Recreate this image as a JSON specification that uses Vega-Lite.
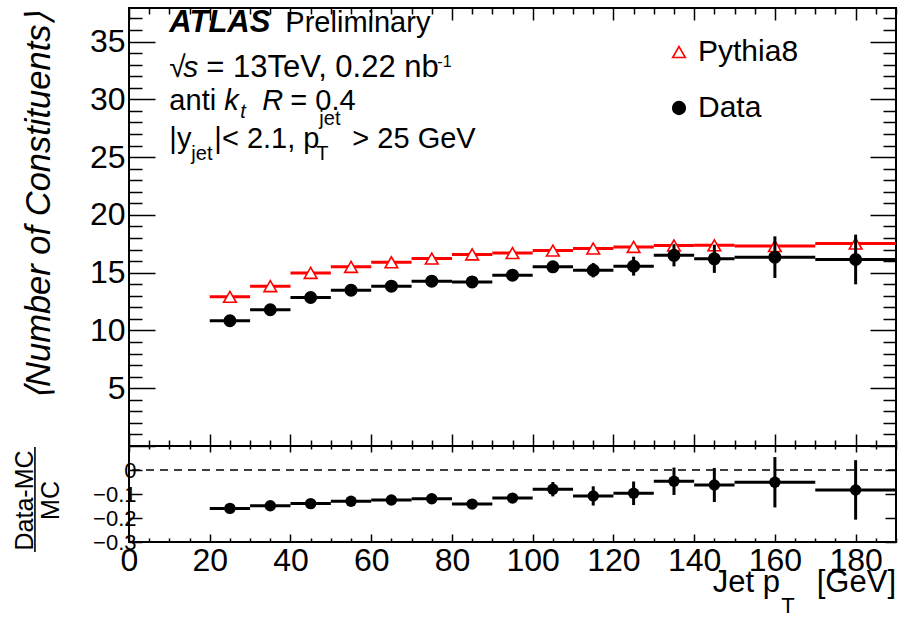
{
  "$schema": "https://vega.github.io/schema/vega-lite/v6.json",
  "background": "white",
  "padding": {"left": 11, "top": 1, "right": 0, "bottom": 5},
  "autosize": {"type": "pad"},
  "bounds": "flush",
  "spacing": 0,
  "config": {
    "font": "Liberation Sans",
    "view": {"stroke": "black", "strokeWidth": 2},
    "axis": {"domain": false, "grid": false, "labelOverlap": false, "labelFlush": false, "tickColor": "black", "tickWidth": 1.5, "labelColor": "black", "titleColor": "black", "labelFont": "Liberation Sans", "titleFont": "Liberation Sans"},
    "legend": {"labelFont": "Liberation Sans", "labelColor": "black"}
  },
  "datasets": {
    "main": [
      {"series": "Pythia8", "lo": 20, "hi": 30, "pt": 25, "value": 12.91, "err": 0},
      {"series": "Pythia8", "lo": 30, "hi": 40, "pt": 35, "value": 13.83, "err": 0},
      {"series": "Pythia8", "lo": 40, "hi": 50, "pt": 45, "value": 14.98, "err": 0},
      {"series": "Pythia8", "lo": 50, "hi": 60, "pt": 55, "value": 15.5, "err": 0},
      {"series": "Pythia8", "lo": 60, "hi": 70, "pt": 65, "value": 15.9, "err": 0},
      {"series": "Pythia8", "lo": 70, "hi": 80, "pt": 75, "value": 16.22, "err": 0},
      {"series": "Pythia8", "lo": 80, "hi": 90, "pt": 85, "value": 16.58, "err": 0},
      {"series": "Pythia8", "lo": 90, "hi": 100, "pt": 95, "value": 16.7, "err": 0},
      {"series": "Pythia8", "lo": 100, "hi": 110, "pt": 105, "value": 16.91, "err": 0},
      {"series": "Pythia8", "lo": 110, "hi": 120, "pt": 115, "value": 17.09, "err": 0},
      {"series": "Pythia8", "lo": 120, "hi": 130, "pt": 125, "value": 17.23, "err": 0},
      {"series": "Pythia8", "lo": 130, "hi": 140, "pt": 135, "value": 17.35, "err": 0},
      {"series": "Pythia8", "lo": 140, "hi": 150, "pt": 145, "value": 17.37, "err": 0},
      {"series": "Pythia8", "lo": 150, "hi": 170, "pt": 160, "value": 17.3, "err": 0},
      {"series": "Pythia8", "lo": 170, "hi": 190, "pt": 180, "value": 17.52, "err": 0},
      {"series": "Data", "lo": 20, "hi": 30, "pt": 25, "value": 10.84, "err": 0.1},
      {"series": "Data", "lo": 30, "hi": 40, "pt": 35, "value": 11.79, "err": 0.1},
      {"series": "Data", "lo": 40, "hi": 50, "pt": 45, "value": 12.85, "err": 0.12},
      {"series": "Data", "lo": 50, "hi": 60, "pt": 55, "value": 13.48, "err": 0.13},
      {"series": "Data", "lo": 60, "hi": 70, "pt": 65, "value": 13.83, "err": 0.15},
      {"series": "Data", "lo": 70, "hi": 80, "pt": 75, "value": 14.26, "err": 0.17},
      {"series": "Data", "lo": 80, "hi": 90, "pt": 85, "value": 14.2, "err": 0.2},
      {"series": "Data", "lo": 90, "hi": 100, "pt": 95, "value": 14.78, "err": 0.22},
      {"series": "Data", "lo": 100, "hi": 110, "pt": 105, "value": 15.5, "err": 0.3},
      {"series": "Data", "lo": 110, "hi": 120, "pt": 115, "value": 15.21, "err": 0.62},
      {"series": "Data", "lo": 120, "hi": 130, "pt": 125, "value": 15.56, "err": 0.82},
      {"series": "Data", "lo": 130, "hi": 140, "pt": 135, "value": 16.5, "err": 0.96},
      {"series": "Data", "lo": 140, "hi": 150, "pt": 145, "value": 16.2, "err": 1.22},
      {"series": "Data", "lo": 150, "hi": 170, "pt": 160, "value": 16.34, "err": 1.8},
      {"series": "Data", "lo": 170, "hi": 190, "pt": 180, "value": 16.14, "err": 2.15}
    ],
    "ratio": [
      {"lo": 20, "hi": 30, "pt": 25, "value": -0.16, "err": 0.005},
      {"lo": 30, "hi": 40, "pt": 35, "value": -0.149, "err": 0.005},
      {"lo": 40, "hi": 50, "pt": 45, "value": -0.14, "err": 0.006},
      {"lo": 50, "hi": 60, "pt": 55, "value": -0.13, "err": 0.007},
      {"lo": 60, "hi": 70, "pt": 65, "value": -0.125, "err": 0.008},
      {"lo": 70, "hi": 80, "pt": 75, "value": -0.12, "err": 0.01},
      {"lo": 80, "hi": 90, "pt": 85, "value": -0.142, "err": 0.012},
      {"lo": 90, "hi": 100, "pt": 95, "value": -0.117, "err": 0.015},
      {"lo": 100, "hi": 110, "pt": 105, "value": -0.08, "err": 0.03},
      {"lo": 110, "hi": 120, "pt": 115, "value": -0.108, "err": 0.04},
      {"lo": 120, "hi": 130, "pt": 125, "value": -0.097, "err": 0.049},
      {"lo": 130, "hi": 140, "pt": 135, "value": -0.047, "err": 0.057},
      {"lo": 140, "hi": 150, "pt": 145, "value": -0.0625, "err": 0.071},
      {"lo": 150, "hi": 170, "pt": 160, "value": -0.051, "err": 0.105},
      {"lo": 170, "hi": 190, "pt": 180, "value": -0.083, "err": 0.124}
    ]
  },
  "vconcat": [
    {
      "width": 767,
      "height": 438,
      "resolve": {"axis": {"x": "independent", "y": "independent"}},
      "layer": [
        {
          "data": {"name": "main"},
          "transform": [{"filter": "datum.series === 'Pythia8'"}],
          "mark": {"type": "rule", "color": "#ff0000", "strokeWidth": 3},
          "encoding": {
            "x": {"field": "lo", "type": "quantitative", "scale": {"domain": [0, 190], "nice": false, "zero": false},
              "axis": {"orient": "bottom", "values": [0,5,10,15,20,25,30,35,40,45,50,55,60,65,70,75,80,85,90,95,100,105,110,115,120,125,130,135,140,145,150,155,160,165,170,175,180,185,190], "labels": false, "title": null,
                "tickSize": {"condition": {"test": "datum.value % 20 === 0", "value": -12}, "value": -6}}},
            "x2": {"field": "hi"},
            "y": {"field": "value", "type": "quantitative", "scale": {"domain": [0, 37.9], "nice": false, "zero": false},
              "axis": {"orient": "left", "values": [0,1,2,3,4,5,6,7,8,9,10,11,12,13,14,15,16,17,18,19,20,21,22,23,24,25,26,27,28,29,30,31,32,33,34,35,36,37],
                "labelExpr": "(datum.value % 5 === 0 && datum.value > 0) ? datum.label : ''",
                "labelFontSize": 32, "labelPadding": 30, "labelBaseline": "middle",
                "tickSize": {"condition": {"test": "datum.value % 5 === 0", "value": -26}, "value": -13},
                "title": "⟨Number of Constituents⟩", "titleFontSize": 34.5, "titleFontStyle": "italic", "titleFontWeight": "normal",
                "titleAngle": -90, "titleAlign": "right", "titleBaseline": "middle", "titleX": -90, "titleY": 3}}
          }
        },
        {
          "data": {"name": "main"},
          "transform": [{"filter": "datum.series === 'Pythia8'"}],
          "mark": {"type": "point", "strokeWidth": 1.6, "size": 160, "opacity": 1},
          "encoding": {
            "x": {"field": "pt", "type": "quantitative", "axis": null},
            "y": {"field": "value", "type": "quantitative", "axis": null},
            "shape": {"field": "series", "type": "nominal", "scale": {"domain": ["Pythia8", "Data"], "range": ["triangle-up", "circle"]},
              "legend": {"title": null, "orient": "none", "legendX": 535, "legendY": 29, "labelFontSize": 30, "symbolSize": 160, "symbolStrokeWidth": 1.6, "labelOffset": 4, "rowPadding": 26, "padding": 0}},
            "fill": {"field": "series", "type": "nominal", "scale": {"domain": ["Pythia8", "Data"], "range": ["#ffffff", "#000000"]}},
            "stroke": {"field": "series", "type": "nominal", "scale": {"domain": ["Pythia8", "Data"], "range": ["#ff0000", "#000000"]}}
          }
        },
        {
          "data": {"name": "main"},
          "transform": [{"filter": "datum.series === 'Data'"}],
          "mark": {"type": "rule", "color": "#000000", "strokeWidth": 3},
          "encoding": {
            "x": {"field": "lo", "type": "quantitative", "axis": null},
            "x2": {"field": "hi"},
            "y": {"field": "value", "type": "quantitative", "axis": null}
          }
        },
        {
          "data": {"name": "main"},
          "transform": [{"filter": "datum.series === 'Data'"}],
          "mark": {"type": "errorbar", "color": "#000000", "thickness": 3},
          "encoding": {
            "x": {"field": "pt", "type": "quantitative", "axis": null},
            "y": {"field": "value", "type": "quantitative", "axis": null},
            "yError": {"field": "err"}
          }
        },
        {
          "data": {"name": "main"},
          "transform": [{"filter": "datum.series === 'Data'"}],
          "mark": {"type": "point", "strokeWidth": 1.6, "size": 130, "opacity": 1},
          "encoding": {
            "x": {"field": "pt", "type": "quantitative", "axis": null},
            "y": {"field": "value", "type": "quantitative", "axis": null},
            "shape": {"field": "series", "type": "nominal"},
            "fill": {"field": "series", "type": "nominal"},
            "stroke": {"field": "series", "type": "nominal"}
          }
        },
        {
          "data": {"name": "main"},
          "mark": {"type": "point", "opacity": 0},
          "encoding": {
            "x": {"field": "pt", "type": "quantitative",
              "axis": {"orient": "top", "values": [0,5,10,15,20,25,30,35,40,45,50,55,60,65,70,75,80,85,90,95,100,105,110,115,120,125,130,135,140,145,150,155,160,165,170,175,180,185,190], "labels": false, "title": null,
                "tickSize": {"condition": {"test": "datum.value % 20 === 0", "value": -12}, "value": -6}}},
            "y": {"field": "value", "type": "quantitative",
              "axis": {"orient": "right", "values": [0,1,2,3,4,5,6,7,8,9,10,11,12,13,14,15,16,17,18,19,20,21,22,23,24,25,26,27,28,29,30,31,32,33,34,35,36,37], "labels": false, "title": null,
                "tickSize": {"condition": {"test": "datum.value % 5 === 0", "value": -26}, "value": -13}}}
          }
        },
        {
          "data": {"values": [{}]},
          "mark": {"type": "text", "text": "ATLAS", "fontSize": 31, "fontWeight": "bold", "fontStyle": "italic", "align": "left", "baseline": "alphabetic", "color": "black"},
          "encoding": {"x": {"datum": 10, "type": "quantitative", "axis": null}, "y": {"datum": 35.84, "type": "quantitative", "axis": null}}
        },
        {
          "data": {"values": [{}]},
          "mark": {"type": "text", "text": "Preliminary", "fontSize": 29, "align": "left", "baseline": "alphabetic", "color": "black", "dx": 116},
          "encoding": {"x": {"datum": 10, "type": "quantitative", "axis": null}, "y": {"datum": 35.84, "type": "quantitative", "axis": null}}
        },
        {
          "data": {"values": [{}]},
          "mark": {"type": "text", "text": "√", "fontSize": 30, "align": "left", "baseline": "alphabetic", "color": "black", "dx": 0},
          "encoding": {"x": {"datum": 10, "type": "quantitative", "axis": null}, "y": {"datum": 31.93, "type": "quantitative", "axis": null}}
        },
        {
          "data": {"values": [{}]},
          "mark": {"type": "text", "text": "s", "fontSize": 30, "fontStyle": "italic", "align": "left", "baseline": "alphabetic", "color": "black", "dx": 14},
          "encoding": {"x": {"datum": 10, "type": "quantitative", "axis": null}, "y": {"datum": 31.93, "type": "quantitative", "axis": null}}
        },
        {
          "data": {"values": [{}]},
          "mark": {"type": "text", "text": "= 13TeV, 0.22 nb", "fontSize": 31, "align": "left", "baseline": "alphabetic", "color": "black", "dx": 37},
          "encoding": {"x": {"datum": 10, "type": "quantitative", "axis": null}, "y": {"datum": 31.93, "type": "quantitative", "axis": null}}
        },
        {
          "data": {"values": [{}]},
          "mark": {"type": "text", "text": "-1", "fontSize": 16, "align": "left", "baseline": "alphabetic", "color": "black", "dx": 268, "dy": -10},
          "encoding": {"x": {"datum": 10, "type": "quantitative", "axis": null}, "y": {"datum": 31.93, "type": "quantitative", "axis": null}}
        },
        {
          "data": {"values": [{}]},
          "mark": {"type": "text", "text": "anti", "fontSize": 29, "align": "left", "baseline": "alphabetic", "color": "black", "dx": 0},
          "encoding": {"x": {"datum": 10, "type": "quantitative", "axis": null}, "y": {"datum": 29.08, "type": "quantitative", "axis": null}}
        },
        {
          "data": {"values": [{}]},
          "mark": {"type": "text", "text": "k", "fontSize": 29, "fontStyle": "italic", "align": "left", "baseline": "alphabetic", "color": "black", "dx": 55},
          "encoding": {"x": {"datum": 10, "type": "quantitative", "axis": null}, "y": {"datum": 29.08, "type": "quantitative", "axis": null}}
        },
        {
          "data": {"values": [{}]},
          "mark": {"type": "text", "text": "t", "fontSize": 20, "fontStyle": "italic", "align": "left", "baseline": "alphabetic", "color": "black", "dx": 71, "dy": 8},
          "encoding": {"x": {"datum": 10, "type": "quantitative", "axis": null}, "y": {"datum": 29.08, "type": "quantitative", "axis": null}}
        },
        {
          "data": {"values": [{}]},
          "mark": {"type": "text", "text": "R", "fontSize": 29, "fontStyle": "italic", "align": "left", "baseline": "alphabetic", "color": "black", "dx": 93},
          "encoding": {"x": {"datum": 10, "type": "quantitative", "axis": null}, "y": {"datum": 29.08, "type": "quantitative", "axis": null}}
        },
        {
          "data": {"values": [{}]},
          "mark": {"type": "text", "text": "= 0.4", "fontSize": 29, "align": "left", "baseline": "alphabetic", "color": "black", "dx": 121},
          "encoding": {"x": {"datum": 10, "type": "quantitative", "axis": null}, "y": {"datum": 29.08, "type": "quantitative", "axis": null}}
        },
        {
          "data": {"values": [{}]},
          "mark": {"type": "text", "text": "|y", "fontSize": 29, "align": "left", "baseline": "alphabetic", "color": "black", "dx": 0},
          "encoding": {"x": {"datum": 10, "type": "quantitative", "axis": null}, "y": {"datum": 25.81, "type": "quantitative", "axis": null}}
        },
        {
          "data": {"values": [{}]},
          "mark": {"type": "text", "text": "jet", "fontSize": 20, "align": "left", "baseline": "alphabetic", "color": "black", "dx": 22, "dy": 12},
          "encoding": {"x": {"datum": 10, "type": "quantitative", "axis": null}, "y": {"datum": 25.81, "type": "quantitative", "axis": null}}
        },
        {
          "data": {"values": [{}]},
          "mark": {"type": "text", "text": "|< 2.1, p", "fontSize": 29, "align": "left", "baseline": "alphabetic", "color": "black", "dx": 45},
          "encoding": {"x": {"datum": 10, "type": "quantitative", "axis": null}, "y": {"datum": 25.81, "type": "quantitative", "axis": null}}
        },
        {
          "data": {"values": [{}]},
          "mark": {"type": "text", "text": "T", "fontSize": 20, "align": "left", "baseline": "alphabetic", "color": "black", "dx": 147, "dy": 12},
          "encoding": {"x": {"datum": 10, "type": "quantitative", "axis": null}, "y": {"datum": 25.81, "type": "quantitative", "axis": null}}
        },
        {
          "data": {"values": [{}]},
          "mark": {"type": "text", "text": "jet", "fontSize": 20, "align": "left", "baseline": "alphabetic", "color": "black", "dx": 150, "dy": -23},
          "encoding": {"x": {"datum": 10, "type": "quantitative", "axis": null}, "y": {"datum": 25.81, "type": "quantitative", "axis": null}}
        },
        {
          "data": {"values": [{}]},
          "mark": {"type": "text", "text": "> 25 GeV", "fontSize": 29, "align": "left", "baseline": "alphabetic", "color": "black", "dx": 183},
          "encoding": {"x": {"datum": 10, "type": "quantitative", "axis": null}, "y": {"datum": 25.81, "type": "quantitative", "axis": null}}
        }
      ]
    },
    {
      "width": 767,
      "height": 96,
      "resolve": {"axis": {"x": "independent", "y": "independent"}},
      "layer": [
        {
          "data": {"values": [{}]},
          "mark": {"type": "rule", "color": "black", "strokeWidth": 1.5, "strokeDash": [8, 6]},
          "encoding": {"y": {"datum": 0, "type": "quantitative", "axis": null}}
        },
        {
          "data": {"name": "ratio"},
          "mark": {"type": "rule", "color": "#000000", "strokeWidth": 3},
          "encoding": {
            "x": {"field": "lo", "type": "quantitative", "scale": {"domain": [0, 190], "nice": false, "zero": false},
              "axis": {"orient": "bottom", "values": [0,5,10,15,20,25,30,35,40,45,50,55,60,65,70,75,80,85,90,95,100,105,110,115,120,125,130,135,140,145,150,155,160,165,170,175,180,185,190],
                "labelExpr": "datum.value % 20 === 0 ? datum.label : ''", "labelFontSize": 32, "labelPadding": 11, "title": null,
                "tickSize": {"condition": {"test": "datum.value % 20 === 0", "value": -8}, "value": -4}}},
            "x2": {"field": "hi"},
            "y": {"field": "value", "type": "quantitative", "scale": {"domain": [-0.3, 0.1], "nice": false, "zero": false},
              "axis": {"orient": "left", "values": [-0.3, -0.2, -0.1, 0],
                "labelExpr": "datum.value === 0 ? '0' : format(datum.value, '.1f')",
                "labelFontSize": 22, "labelPadding": 6, "labelBaseline": "middle", "tickSize": -13,
                "title": ["Data-MC", "MC"], "titleFontSize": 25, "titleFontWeight": "normal", "titleLineHeight": 26,
                "titleAngle": -90, "titleAlign": "center", "titleBaseline": "middle", "titleX": -105, "titleY": 54}}
          }
        },
        {
          "data": {"name": "ratio"},
          "mark": {"type": "errorbar", "color": "#000000", "thickness": 3},
          "encoding": {
            "x": {"field": "pt", "type": "quantitative", "axis": null},
            "y": {"field": "value", "type": "quantitative", "axis": null},
            "yError": {"field": "err"}
          }
        },
        {
          "data": {"name": "ratio"},
          "mark": {"type": "point", "shape": "circle", "filled": true, "color": "#000000", "size": 130, "opacity": 1},
          "encoding": {
            "x": {"field": "pt", "type": "quantitative", "axis": null},
            "y": {"field": "value", "type": "quantitative", "axis": null}
          }
        },
        {
          "data": {"name": "ratio"},
          "mark": {"type": "point", "opacity": 0},
          "encoding": {
            "x": {"field": "pt", "type": "quantitative",
              "axis": {"orient": "top", "values": [0,5,10,15,20,25,30,35,40,45,50,55,60,65,70,75,80,85,90,95,100,105,110,115,120,125,130,135,140,145,150,155,160,165,170,175,180,185,190], "labels": false, "title": null,
                "tickSize": {"condition": {"test": "datum.value % 20 === 0", "value": -6}, "value": -3}}},
            "y": {"field": "value", "type": "quantitative",
              "axis": {"orient": "right", "values": [-0.3, -0.2, -0.1, 0], "labels": false, "title": null, "tickSize": -11}}
          }
        },
        {
          "data": {"values": [{}]},
          "mark": {"type": "rule", "color": "black", "strokeWidth": 1.6},
          "encoding": {
            "x": {"datum": -23.3, "type": "quantitative", "axis": null},
            "y": {"datum": 0.096, "type": "quantitative", "axis": null},
            "y2": {"datum": -0.342}
          }
        },
        {
          "data": {"values": [{}]},
          "mark": {"type": "text", "text": "[GeV]", "fontSize": 31, "align": "right", "baseline": "alphabetic", "color": "black", "dy": 50},
          "encoding": {"x": {"datum": 190, "type": "quantitative", "axis": null}, "y": {"datum": -0.3, "type": "quantitative", "axis": null}}
        },
        {
          "data": {"values": [{}]},
          "mark": {"type": "text", "text": "Jet p", "fontSize": 31, "align": "right", "baseline": "alphabetic", "color": "black", "dx": -116, "dy": 50},
          "encoding": {"x": {"datum": 190, "type": "quantitative", "axis": null}, "y": {"datum": -0.3, "type": "quantitative", "axis": null}}
        },
        {
          "data": {"values": [{}]},
          "mark": {"type": "text", "text": "T", "fontSize": 22, "align": "center", "baseline": "alphabetic", "color": "black", "dx": -108, "dy": 71},
          "encoding": {"x": {"datum": 190, "type": "quantitative", "axis": null}, "y": {"datum": -0.3, "type": "quantitative", "axis": null}}
        }
      ]
    }
  ]
}
